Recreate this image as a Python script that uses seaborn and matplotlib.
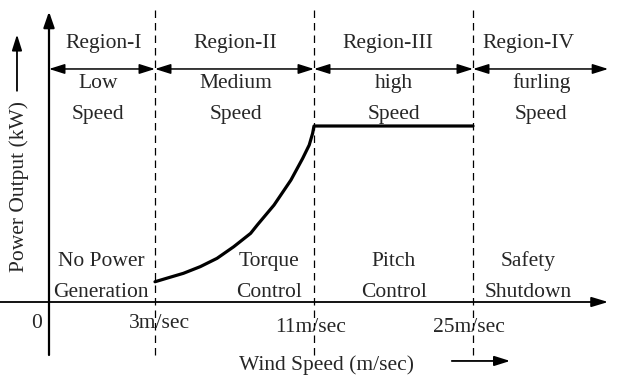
import numpy as np
import pandas as pd
import matplotlib
matplotlib.use("Agg")
import matplotlib.pyplot as plt
import seaborn as sns

# ---------------- data ----------------
boundary_speeds = [0, 3, 11, 25]                       # m/sec
tick_labels = ["0", "3m/sec", "11m/sec", "25m/sec"]
region_names = ["Region-I", "Region-II", "Region-III", "Region-IV"]
speed_classes = [["Low", "Speed"], ["Medium", "Speed"], ["high", "Speed"], ["furling", "Speed"]]
control_modes = [["No Power", "Generation"], ["Torque", "Control"],
                 ["Pitch", "Control"], ["Safety", "Shutdown"]]
curve_wind_speed = [3.0, 3.59, 4.43, 5.28, 6.12, 6.96, 7.81, 8.15, 8.99,
                    9.84, 10.43, 10.76, 10.93, 11.0, 25.0]
curve_power = [0.115, 0.135, 0.163, 0.201, 0.248, 0.314, 0.390, 0.438, 0.551,
               0.693, 0.816, 0.892, 0.958, 1.0, 1.0]      # fraction of rated power
x_label = "Wind Speed (m/sec)"
y_label = "Power Output (kW)"

# ---------------- layout (schematic axis) ----------------
boundary_pos = [0, 2, 5, 8]          # schematic x position of each boundary speed
x_end = 10.55                        # x-axis arrow tip
y_top = 1.65                         # y-axis arrow tip
y_bottom = -0.30
arrow_row = 1.324
region_x = [1.04, 3.51, 6.40, 9.04]
upper_x = [0.93, 3.52, 6.51, 9.29]
lower_x = [0.98, 4.15, 6.51, 9.04]
tick_x = [-0.13, 2.08, 4.93, 7.93]
tick_y = [-0.148, -0.148, -0.170, -0.170]

sns.set_style("white")
plt.rcParams["font.family"] = ["Liberation Serif", "DejaVu Serif"]
FS = 15.5

fig = plt.figure(figsize=(6.29, 3.85), dpi=100)
ax = fig.add_axes([0, 0, 1, 1])
ax.set_xlim(-49 / 53, (629 - 49) / 53)
ax.set_ylim(-(385 - 302) / 176, 302 / 176)
ax.set_axis_off()

# power curve through the schematic speed scale
df = pd.DataFrame({
    "pos": np.interp(curve_wind_speed, boundary_speeds, boundary_pos),
    "power": curve_power,
})
sns.lineplot(data=df, x="pos", y="power", ax=ax, color="black", lw=2.3,
             estimator=None, sort=False)
ax.lines[-1].set_solid_joinstyle("round")

# axes with arrows
ax.plot([0, 0], [y_bottom, y_top - 0.05], color="black", lw=1.6)
ax.annotate("", xy=(0, y_top), xytext=(0, y_top - 0.1),
            arrowprops=dict(arrowstyle="-|>,head_length=0.95,head_width=0.33",
                            color="black", lw=1.6, mutation_scale=10,
                            shrinkA=0, shrinkB=0))
ax.plot([ax.get_xlim()[0], x_end - 0.2], [0, 0], color="black", lw=1.3)
ax.annotate("", xy=(x_end, 0), xytext=(x_end - 0.3, 0),
            arrowprops=dict(arrowstyle="-|>,head_length=1.0,head_width=0.3",
                            color="black", lw=1.3, mutation_scale=10,
                            shrinkA=0, shrinkB=0))

# dashed boundaries
for p in boundary_pos[1:]:
    ax.plot([p, p], [y_bottom, 1.66], color="black", lw=0.9, ls=(0, (6, 4)))

# double-headed region arrows
edges = boundary_pos + [x_end]
for a, b in zip(edges[:-1], edges[1:]):
    ax.annotate("", xy=(b, arrow_row), xytext=(a, arrow_row),
                arrowprops=dict(arrowstyle="<|-|>,head_length=0.95,head_width=0.3",
                                color="black", lw=1.1, mutation_scale=10,
                                shrinkA=0, shrinkB=0))

# texts
for i in range(4):
    ax.text(region_x[i], 1.443, region_names[i], ha="center", va="baseline", fontsize=FS)
    ax.text(upper_x[i], 1.216, speed_classes[i][0], ha="center", va="baseline", fontsize=FS)
    ax.text(upper_x[i], 1.04, speed_classes[i][1], ha="center", va="baseline", fontsize=FS)
    ax.text(lower_x[i], 0.2045, control_modes[i][0], ha="center", va="baseline", fontsize=FS)
    ax.text(lower_x[i], 0.028, control_modes[i][1], ha="center", va="baseline", fontsize=FS)
    ax.text(tick_x[i], tick_y[i], tick_labels[i],
            ha="right" if i == 0 else "center", va="baseline", fontsize=FS)

ax.text(5.245, -0.386, x_label, ha="center", va="baseline", fontsize=FS)
ax.annotate("", xy=(8.70, -0.335), xytext=(7.60, -0.335),
            arrowprops=dict(arrowstyle="-|>,head_length=0.95,head_width=0.3",
                            color="black", lw=1.3, mutation_scale=10,
                            shrinkA=0, shrinkB=0))
ax.text(-0.566, 0.659, y_label, ha="center", va="center", rotation=90, fontsize=FS)
ax.annotate("", xy=(-0.604, 1.52), xytext=(-0.604, 1.20),
            arrowprops=dict(arrowstyle="-|>,head_length=0.95,head_width=0.3",
                            color="black", lw=1.3, mutation_scale=10,
                            shrinkA=0, shrinkB=0))

fig.savefig("out.png", dpi=100, facecolor="white")
